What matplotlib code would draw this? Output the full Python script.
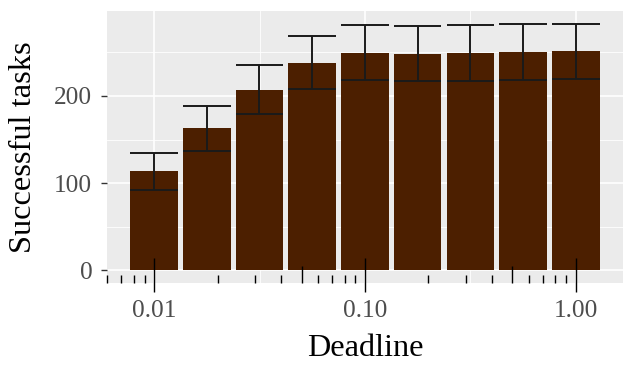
import numpy as np
import matplotlib
matplotlib.use('Agg')
from matplotlib import pyplot as plt
from matplotlib import transforms

deadline = [0.01, 0.0178, 0.0316, 0.0562, 0.1, 0.178, 0.316, 0.562, 1.0]
tasks = [113.7, 163.0, 207.3, 238.3, 249.4, 248.2, 249.4, 250.0, 251.2]
err = [21.2, 25.8, 28.5, 30.9, 31.5, 31.5, 31.7, 32.1, 31.8]
x_breaks = [0.01, 0.1, 1.0]
x_labels = ['0.01', '0.10', '1.00']
y_breaks = [0, 100, 200]

plt.rcParams['font.family'] = ['Liberation Serif', 'DejaVu Serif']

fig = plt.figure(figsize=(6.29, 3.67), dpi=100)
ax = fig.add_axes([0.170, 0.229, 0.8205, 0.740])
ax.set_facecolor('#EBEBEB')
for s in ax.spines.values():
    s.set_visible(False)

ax.set_xscale('log')
x = np.array(deadline)
half = 10 ** 0.1125
left = x / half
width = x * half - left
ax.bar(left, tasks, width=width, align='edge', color='#4C1F00', zorder=3)

# error bars, caps as wide as the bars
ax.vlines(x, np.array(tasks) - err, np.array(tasks) + err, color='#1a1a1a', lw=1.4, zorder=4)
ax.hlines(np.array(tasks) + err, left, left + width, color='#1a1a1a', lw=1.4, zorder=4)
ax.hlines(np.array(tasks) - err, left, left + width, color='#1a1a1a', lw=1.4, zorder=4)

ax.set_xlim(10 ** -2.224, 10 ** 0.224)
ax.set_ylim(-14.5, 297)

# grid
for yv in y_breaks:
    ax.axhline(yv, color='white', lw=1.2, zorder=1)
for yv in [50, 150, 250]:
    ax.axhline(yv, color='white', lw=0.6, zorder=1)
for xv in x_breaks:
    ax.axvline(xv, color='white', lw=1.2, zorder=1)
for xv in [10 ** -1.5, 10 ** -0.5]:
    ax.axvline(xv, color='white', lw=0.6, zorder=1)

# log ticks along the bottom
trans = transforms.blended_transform_factory(ax.transData, ax.transAxes)
lo, hi = ax.get_xlim()
short, mid = [], []
for dec in [0.001, 0.01, 0.1]:
    for m in range(2, 10):
        v = dec * m
        if lo <= v <= hi:
            (mid if m == 5 else short).append(v)
ax.vlines(short, 0, 0.031, color='black', lw=1.0, transform=trans, zorder=5, clip_on=False)
ax.vlines(mid, 0, 0.061, color='black', lw=1.0, transform=trans, zorder=5, clip_on=False)
ax.vlines(x_breaks, -0.033, 0.092, color='black', lw=1.0, transform=trans, zorder=5, clip_on=False)

ax.set_xticks(x_breaks)
ax.set_xticklabels(x_labels)
ax.xaxis.set_minor_locator(matplotlib.ticker.NullLocator())
ax.set_yticks(y_breaks)
ax.tick_params(axis='x', length=0, pad=12, labelsize=18.3, labelcolor='#4D4D4D')
ax.tick_params(axis='y', length=4.5, width=1.0, color='#333333', pad=6,
               labelsize=18.3, labelcolor='#4D4D4D')

ax.set_xlabel('Deadline', fontsize=23.3, labelpad=9)
ax.set_ylabel('Successful tasks', fontsize=23.3, labelpad=12)

fig.savefig('out.png', dpi=100)
